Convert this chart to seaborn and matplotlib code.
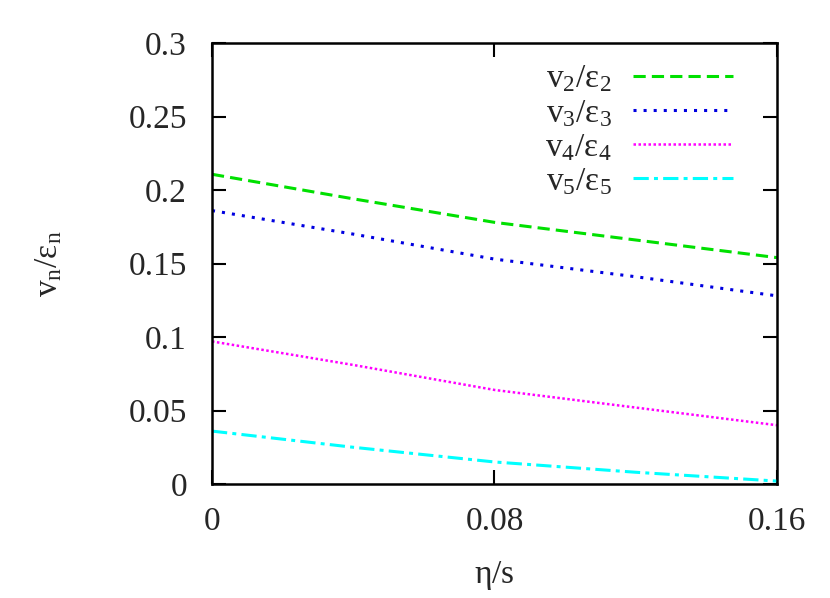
import numpy as np
import pandas as pd
import seaborn as sns
import matplotlib
matplotlib.use('Agg')
import matplotlib.pyplot as plt

# eta/s values and v_n/eps_n
eta_s = [0.0, 0.04, 0.08, 0.12, 0.16]
v2 = [0.2107, 0.194, 0.178, 0.166, 0.154]
v3 = [0.186, 0.170, 0.153, 0.141, 0.128]
v4 = [0.097, 0.081, 0.064, 0.052, 0.040]
v5 = [0.036, 0.025, 0.015, 0.008, 0.002]

labels = [r'$\mathregular{v_2/ε_2}$', r'$\mathregular{v_3/ε_3}$',
          r'$\mathregular{v_4/ε_4}$', r'$\mathregular{v_5/ε_5}$']
colors = ['#00e000', '#0000e0', '#ff00ff', '#00ffff']
widths = [2.2, 2.2, 1.8, 2.2]
dashes = [(4, 2), (1, 2.3), (1, 1), (5, 1.7, 1.3, 1.7)]

sns.set_style('ticks')
plt.rcParams['font.family'] = ['Liberation Serif', 'DejaVu Serif']
plt.rcParams['mathtext.fontset'] = 'custom'
plt.rcParams['mathtext.rm'] = 'Liberation Serif'
plt.rcParams['mathtext.it'] = 'Liberation Serif:italic'

fig = plt.figure(figsize=(8.3, 5.98), dpi=100)
ax = fig.add_axes([0.2554, 0.1906, 0.6807, 0.7375])

for vals, lab, col, lw, dsh in zip([v2, v3, v4, v5], labels, colors,
                                   widths, dashes):
    d = pd.DataFrame({'eta': eta_s, 'v': vals})
    sns.lineplot(x='eta', y='v', data=d, ax=ax, color=col,
                 linewidth=lw, label=lab)
    ax.lines[-1].set_dashes(dsh)

ax.set_xlim(0, 0.16)
ax.set_ylim(0, 0.3)
ax.set_xticks([0, 0.08, 0.16])
ax.set_xticklabels(['0', '0.08', '0.16'])
ax.set_yticks([0, 0.05, 0.1, 0.15, 0.2, 0.25, 0.3])
ax.set_yticklabels(['0', '0.05', '0.1', '0.15', '0.2', '0.25', '0.3'])
ax.tick_params(direction='in', length=10, width=1.5, labelsize=24,
               top=True, right=True, color='black')
ax.tick_params(axis='y', pad=18)
ax.tick_params(axis='x', pad=16)
for s in ax.spines.values():
    s.set_linewidth(1.8)
    s.set_color('black')

ax.set_xlabel(r'$\mathregular{η/s}$', fontsize=24, labelpad=16)
ax.set_ylabel(r'$\mathregular{v_n/ε_n}$', fontsize=24, labelpad=46)

leg = ax.legend(loc='upper right', bbox_to_anchor=(0.9345, 0.968),
                frameon=False, markerfirst=False,
                fontsize=24, handlelength=3.0, labelspacing=0.1,
                borderaxespad=0, handletextpad=0.65, borderpad=0.2)
for t in leg.get_texts():
    t.set_ha('right')

fig.savefig('out.png', dpi=100)
